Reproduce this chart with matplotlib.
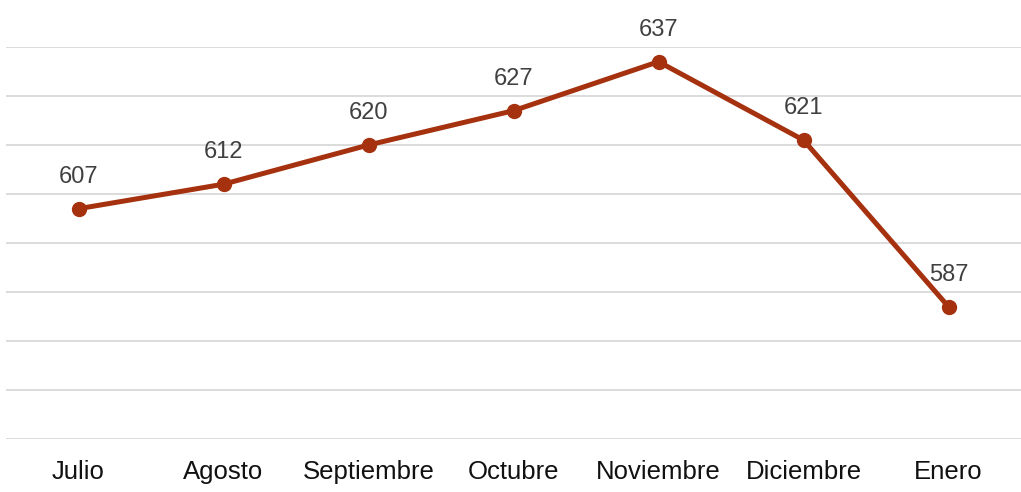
import matplotlib

matplotlib.use("Agg")
import matplotlib.pyplot as plt

meses = ["Julio", "Agosto", "Septiembre", "Octubre", "Noviembre", "Diciembre", "Enero"]
valores = [607, 612, 620, 627, 637, 621, 587]

plt.rcParams["font.family"] = ["Liberation Sans", "DejaVu Sans"]

fig = plt.figure(figsize=(10.21, 4.92), dpi=100)
ax = fig.add_axes([6 / 1021, 1 - 439 / 492, 1015 / 1021, (439 - 47) / 492])

x = list(range(len(meses)))
ax.plot(x, valores, color="#a5310f", lw=3.6, marker="o", ms=10, zorder=3)

# etiquetas de valor encima de cada punto
for xi, v in zip(x, valores):
    ax.annotate(str(v), (xi, v), xytext=(0, 23), textcoords="offset points",
                ha="center", va="center", fontsize=17, color="#404040")

ax.set_xlim(-0.5, len(meses) - 0.5)
ax.set_ylim(560, 640)
ax.set_yticks(range(560, 641, 10))
ax.yaxis.grid(True, color="#d9d9d9", lw=1.3)
ax.set_axisbelow(True)
ax.tick_params(axis="y", left=False, labelleft=False)
ax.set_xticks(x)
ax.set_xticklabels(meses, fontsize=18.5, color="#111111")
ax.tick_params(axis="x", length=0, pad=15)
for s in ax.spines.values():
    s.set_visible(False)

fig.savefig("out.png", dpi=100)
